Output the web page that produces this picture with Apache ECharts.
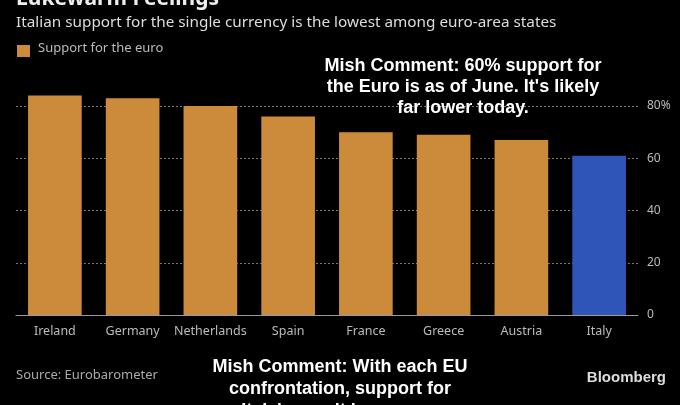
<!DOCTYPE html>
<html><head><meta charset="utf-8">
<script src="https://cdn.jsdelivr.net/npm/echarts@6/dist/echarts.min.js"></script>
<style>html,body{margin:0;padding:0;background:#000;}#c{width:680px;height:405px;}</style>
</head><body><div id="c"></div>
<script>
const categories = ['Ireland','Germany','Netherlands','Spain','France','Greece','Austria','Italy'];
const supportValues = [84, 83, 80, 76, 70, 69, 67, 61];
const yTicks = [0, 20, 40, 60, 80];
const highlightCategory = 'Italy';

const ORANGE = '#cb8b3b', BLUE = '#2f55b9';
const chart = echarts.init(document.getElementById('c'));
const font = '"Noto Sans", "DejaVu Sans", sans-serif';
chart.setOption({
  backgroundColor: '#000',
  animation: false,
  grid: { left: 16, right: 42, top: 106, bottom: 90 },
  xAxis: {
    type: 'category', data: categories,
    axisLine: { lineStyle: { color: '#999', width: 1 } },
    axisTick: { alignWithLabel: true, length: 4, lineStyle: { color: '#999' } },
    axisLabel: { color: '#bbb', fontSize: 12.5, fontFamily: font, margin: 10, interval: 0 }
  },
  yAxis: {
    type: 'value', position: 'right', min: yTicks[0], max: yTicks[yTicks.length-1], interval: 20,
    axisLine: { show: false }, axisTick: { show: false },
    axisLabel: { color: '#bbb', fontSize: 12, fontFamily: font, margin: 9,
      formatter: v => v === yTicks[yTicks.length-1] ? v + '%' : String(v) },
    splitLine: { show: true, lineStyle: { color: '#777', type: [2, 2], width: 1 } }
  },
  series: [{
    type: 'bar', name: 'Support for the euro', barWidth: '69%', clip: false,
    data: supportValues.map((v, i) => ({ value: v,
      itemStyle: { color: categories[i] === highlightCategory ? BLUE : ORANGE } })),
    z: 3
  }],
  graphic: [
    { type: 'text', left: 16, top: -11, style: { text: 'Lukewarm Feelings', fill: '#eee', font: 'bold 21px ' + font } },
    { type: 'text', left: 16, top: 15, style: { text: 'Italian support for the single currency is the lowest among euro-area states', fill: '#ddd', font: '15.3px ' + font } },
    { type: 'rect', left: 17, top: 45, shape: { width: 13, height: 12 }, style: { fill: ORANGE } },
    { type: 'text', left: 38, top: 42, style: { text: 'Support for the euro', fill: '#bbb', font: '13px ' + font } },
    { type: 'text', left: 16, top: 369, style: { text: 'Source: Eurobarometer', fill: '#aaa', font: '13px ' + font } },
    { type: 'text', right: 14, top: 370, style: { text: 'Bloomberg', fill: '#ddd', font: 'bold 15px "Liberation Sans", Arial, sans-serif' } },
    { type: 'text', x: 463, y: 56, style: { text: "Mish Comment: 60% support for\nthe Euro is as of June. It's likely\nfar lower today.", fill: '#fff', align: 'center', lineHeight: 21, font: 'bold 18px "Liberation Sans", Arial, sans-serif' }, z: 10 },
    { type: 'text', x: 340, y: 356, style: { text: "Mish Comment: With each EU\nconfrontation, support for\nItaly's revolt increases.", fill: '#fff', align: 'center', lineHeight: 22, font: 'bold 18px "Liberation Sans", Arial, sans-serif' }, z: 10 }
  ]
});
</script></body></html>
